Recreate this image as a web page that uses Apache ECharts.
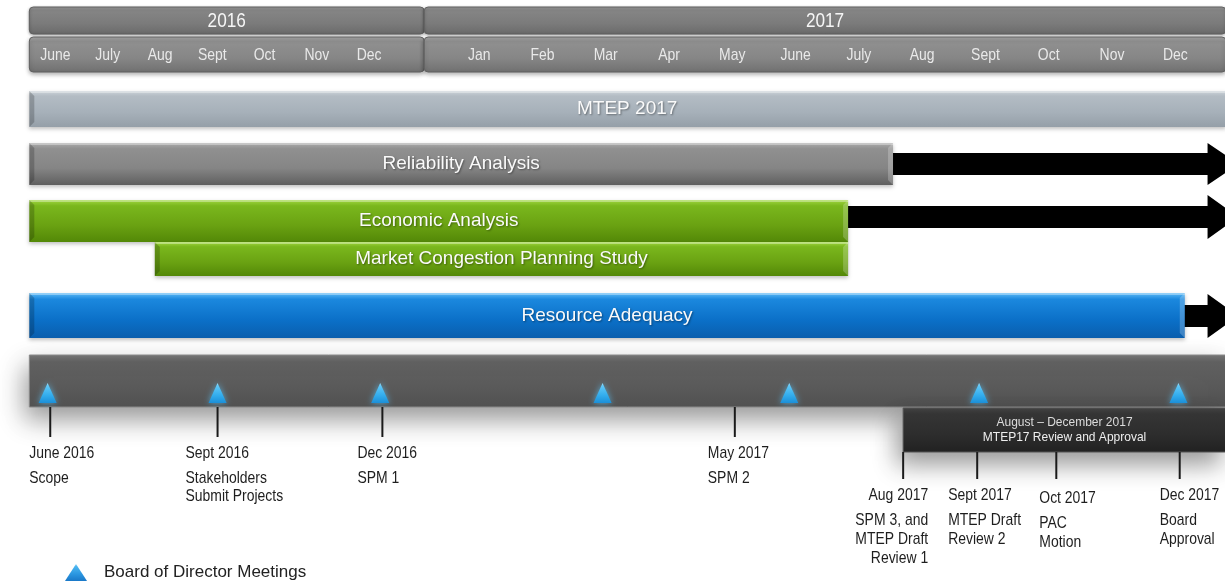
<!DOCTYPE html>
<html>
<head>
<meta charset="utf-8">
<script src="https://cdn.jsdelivr.net/npm/echarts@6/dist/echarts.min.js"></script>
<style>
  html, body { margin: 0; padding: 0; background: #fff; }
  #chart { width: 1225px; height: 581px; }
</style>
</head>
<body>
<div id="chart"></div>
<script>
// time is counted in months from the start of June 2016 (0 = June 2016, 7 = Jan 2017)
var years = ['2016', '2017'];
var yearStart = [0, 7];
var yearEnd = [7, 19.3];
var monthLabels = ['June', 'July', 'Aug', 'Sept', 'Oct', 'Nov', 'Dec',
  'Jan', 'Feb', 'Mar', 'Apr', 'May', 'June', 'July', 'Aug', 'Sept', 'Oct', 'Nov', 'Dec'];

var taskNames = ['MTEP 2017', 'Reliability Analysis', 'Economic Analysis',
  'Market Congestion Planning Study', 'Resource Adequacy'];
var taskStart = [0, 0, 0, 2.4, 0];
var taskEnd = [19.3, 14.04, 13.33, 13.33, 18.65];
var taskArrowTo = [null, 19.5, 19.5, null, 19.5];   // work continuing past the chart

var boardMeetings = [0.35, 3.6, 6.6, 9.45, 12.4, 15.4, 18.55];

var milestoneDates = ['June 2016', 'Sept 2016', 'Dec 2016', 'May 2017',
  'Aug 2017', 'Sept 2017', 'Oct 2017', 'Dec 2017'];
var milestoneNotes = [
  ['Scope'],
  ['Stakeholders', 'Submit Projects'],
  ['SPM 1'],
  ['SPM 2'],
  ['SPM 3, and', 'MTEP Draft', 'Review 1'],
  ['MTEP Draft', 'Review 2'],
  ['PAC', 'Motion'],
  ['Board', 'Approval']
];
var milestoneAt = [0.4, 3.6, 6.62, 11.54, 14.2, 15.37, 16.62, 18.57];

var reviewLines = ['August \u2013 December 2017', 'MTEP17 Review and Approval'];
var reviewStart = [14.2];
var reviewEnd = [19.3];

// ---- layout / style (not data) ----
var taskRows = [
  { top: 91, height: 36, stops: ['#ccd3d9', '#b3bcc4', '#a6b0b9', '#959fa8'] },
  { top: 143, height: 42, stops: ['#ababab', '#909090', '#858585', '#5f5f5f'] },
  { top: 200, height: 42, stops: ['#9fd640', '#7ab71d', '#6aa212', '#538807'] },
  { top: 242, height: 34, stops: ['#9fd640', '#7ab71d', '#6aa212', '#538807'] },
  { top: 293, height: 45, stops: ['#5cbaf6', '#1b88de', '#0b70c8', '#0a5ead'] }
];
var arrowRows = [null, { cy: 164, half: 21 }, { cy: 217, half: 22 }, null, { cy: 316, half: 22 }];
var milestoneTier = [0, 0, 0, 0, 1, 1, 1, 1];
var milestoneDx = [-21, -32, -25, -27, 25, -29, -17, -20];
var milestoneDy = [0, 0, 0, 0, 0, 0, 3, 0];
var milestoneAlign = ['left', 'left', 'left', 'left', 'right', 'left', 'left', 'left'];
var tiers = [
  { lineTop: 407, lineBottom: 437, dateY: 453, noteY: 478, step: 18 },
  { lineTop: 452, lineBottom: 479, dateY: 495, noteY: 520, step: 19 }
];
var SANS = 'Liberation Sans, Arial, sans-serif';

// the slide's month columns are uneven: 2016 months are narrower than 2017 ones,
// with a wider step across the year divider
var W16 = 52.3 / 63.3, GAP = 110 / 63.3;
function axisX(t) {
  if (t <= 6.5) return t * W16;
  if (t <= 7.5) return 6.5 * W16 + (t - 6.5) * GAP;
  return 6.5 * W16 + GAP + (t - 7.5);
}
function px(api, t) { return api.coord([axisX(t), 0])[0]; }

function vgrad(stops) {
  var n = stops.length - 1;
  var offs = n === 3 ? [0, 0.14, 0.6, 1] : stops.map(function (s, i) { return i / n; });
  return new echarts.graphic.LinearGradient(0, 0, 0, 1, stops.map(function (c, i) {
    return { offset: offs[i], color: c };
  }));
}

// Arial Narrow look: regular sans squeezed horizontally
function narrow(x, y, text, size, align, fill) {
  return {
    type: 'text', x: x, y: y, scaleX: 0.82,
    style: { text: text, x: 0, y: 0, fill: fill || '#1e1e1e', fontSize: size, fontFamily: SANS,
      align: align || 'left', verticalAlign: 'middle' }
  };
}

function renderYear(params, api) {
  var i = params.dataIndex;
  var x0 = px(api, api.value(0)), x1 = px(api, api.value(1));
  return { type: 'group', children: [
    { type: 'rect', shape: { x: x0, y: 7, width: x1 - x0, height: 27, r: 4 },
      style: { fill: vgrad(['#a0a0a0', '#858585', '#7b7b7b', '#6a6a6a']), stroke: '#606060', lineWidth: 1,
        shadowBlur: 3, shadowOffsetY: 1, shadowColor: 'rgba(0,0,0,0.3)' } },
    { type: 'rect', shape: { x: x0, y: 37, width: x1 - x0, height: 35, r: 4 },
      style: { fill: vgrad(['#a9a9a9', '#909090', '#868686', '#707070']), stroke: '#606060', lineWidth: 1,
        shadowBlur: 4, shadowOffsetY: 2, shadowColor: 'rgba(0,0,0,0.3)' } },
    narrow((x0 + x1) / 2, 21, years[i], 21, 'center', '#f6f6f6')
  ] };
}

function renderMonth(params, api) {
  var i = params.dataIndex;
  return narrow(px(api, api.value(0)), 55, monthLabels[i], 17, 'center', '#e9e9e9');
}

function renderTask(params, api) {
  var i = params.dataIndex, row = taskRows[i];
  var x0 = px(api, api.value(0)), x1 = px(api, api.value(1));
  var top = row.top, h = row.height, bot = top + h;
  var kids = [];
  if (taskArrowTo[i] != null) {
    var a = arrowRows[i], tip = px(api, taskArrowTo[i]), base = tip - 31, s = 11;
    kids.push({ type: 'polygon', shape: { points: [
      [x1 - 2, a.cy - s], [base, a.cy - s], [base, a.cy - a.half], [tip, a.cy],
      [base, a.cy + a.half], [base, a.cy + s], [x1 - 2, a.cy + s]] },
      style: { fill: '#000' } });
  }
  kids.push({ type: 'rect', shape: { x: x0, y: top, width: x1 - x0, height: h },
    style: { fill: vgrad(row.stops), shadowBlur: 4, shadowOffsetY: 2, shadowColor: 'rgba(0,0,0,0.25)' } });
  kids.push({ type: 'rect', shape: { x: x0, y: top, width: x1 - x0, height: 2 },
    style: { fill: 'rgba(255,255,255,0.35)' } });
  kids.push({ type: 'polygon', shape: { points: [[x0, top], [x0 + 5, top + 5], [x0 + 5, bot - 5], [x0, bot]] },
    style: { fill: 'rgba(0,0,0,0.2)' } });
  if (x1 < 1215) {
    kids.push({ type: 'polygon', shape: { points: [[x1, top], [x1 - 5, top + 5], [x1 - 5, bot - 5], [x1, bot]] },
      style: { fill: 'rgba(255,255,255,0.22)' } });
  }
  kids.push({ type: 'text', x: (x0 + Math.min(x1, 1225)) / 2, y: top + h / 2,
    style: { text: taskNames[i], x: 0, y: 0, fill: '#fafafa', fontSize: 19, fontFamily: SANS,
      align: 'center', verticalAlign: 'middle',
      textShadowBlur: 2, textShadowColor: 'rgba(0,0,0,0.4)', textShadowOffsetX: 1, textShadowOffsetY: 1 } });
  return { type: 'group', children: kids };
}

function renderBoardBar(params, api) {
  var x0 = px(api, 0), x1 = px(api, 19.3);
  return { type: 'rect', shape: { x: x0, y: 355, width: x1 - x0, height: 52 },
    style: { fill: vgrad(['#777777', '#626262', '#5b5b5b', '#525252']), stroke: '#8a8a8a', lineWidth: 1,
      shadowBlur: 26, shadowOffsetY: 12, shadowOffsetX: -4, shadowColor: 'rgba(0,0,0,0.4)' } };
}

function renderReview(params, api) {
  var x0 = px(api, api.value(0)), x1 = px(api, api.value(1)), cx = (x0 + x1) / 2;
  return { type: 'group', children: [
    { type: 'rect', shape: { x: x0, y: 408, width: x1 - x0, height: 44 },
      style: { fill: vgrad(['#444444', '#363636', '#2e2e2e', '#222222']), stroke: '#555', lineWidth: 1,
        shadowBlur: 24, shadowOffsetY: 12, shadowOffsetX: -6, shadowColor: 'rgba(0,0,0,0.4)' } },
    { type: 'text', x: cx, y: 423, style: { text: reviewLines[0], x: 0, y: 0, fill: '#dcdcdc',
      fontSize: 12, fontFamily: SANS, align: 'center', verticalAlign: 'middle' } },
    { type: 'text', x: cx, y: 438, style: { text: reviewLines[1], x: 0, y: 0, fill: '#eeeeee',
      fontSize: 12, fontFamily: SANS, align: 'center', verticalAlign: 'middle' } }
  ] };
}

function renderMeeting(params, api) {
  var x = px(api, api.value(0));
  return { type: 'polygon', shape: { points: [[x, 383], [x + 9, 403], [x - 9, 403]] },
    style: { fill: vgrad(['#a8e6ff', '#62c8f7', '#34aeee', '#1b8fd8']),
      shadowBlur: 6, shadowColor: 'rgba(90,200,255,0.7)' } };
}

function renderMilestone(params, api) {
  var i = params.dataIndex, tier = tiers[milestoneTier[i]];
  var x = px(api, api.value(0)), tx = x + milestoneDx[i], al = milestoneAlign[i], dy = milestoneDy[i];
  var kids = [
    { type: 'line', shape: { x1: x, y1: tier.lineTop, x2: x, y2: tier.lineBottom },
      style: { stroke: '#1a1a1a', lineWidth: 2 } },
    narrow(tx, tier.dateY + dy, milestoneDates[i], 17, al)
  ];
  milestoneNotes[i].forEach(function (line, k) {
    kids.push(narrow(tx, tier.noteY + dy + k * tier.step, line, 17, al));
  });
  return { type: 'group', children: kids };
}

var chart = echarts.init(document.getElementById('chart'));
chart.setOption({
  animation: false,
  backgroundColor: '#ffffff',
  grid: { left: 23, right: 0, top: 0, bottom: 0 },
  xAxis: { type: 'value', min: -0.1, max: 18.894, show: false },
  yAxis: { type: 'value', min: 0, max: 581, inverse: true, show: false },
  legend: {
    data: ['Board of Director Meetings'],
    left: 65, top: 564, padding: 0, icon: 'triangle', itemWidth: 22, itemHeight: 17,
    textStyle: { fontSize: 17, color: '#222', fontFamily: SANS, padding: [0, 0, 0, 12] }
  },
  series: [
    { type: 'custom', renderItem: renderYear, silent: true,
      data: years.map(function (y, i) { return [yearStart[i], yearEnd[i]]; }) },
    { type: 'custom', renderItem: renderMonth, silent: true,
      data: monthLabels.map(function (m, i) { return [i + 0.5]; }) },
    { type: 'custom', renderItem: renderTask, silent: true,
      data: taskNames.map(function (n, i) { return [taskStart[i], taskEnd[i]]; }) },
    { type: 'custom', renderItem: renderBoardBar, silent: true, data: [[0]] },
    { type: 'custom', renderItem: renderReview, silent: true,
      data: reviewStart.map(function (s, i) { return [s, reviewEnd[i]]; }) },
    { type: 'custom', name: 'Board of Director Meetings', renderItem: renderMeeting,
      itemStyle: { color: vgrad(['#8fd6fb', '#4cb6f0', '#2a96e0', '#1a78c8']) },
      data: boardMeetings.map(function (t) { return [t]; }) },
    { type: 'custom', renderItem: renderMilestone, silent: true,
      data: milestoneAt.map(function (t) { return [t]; }) }
  ]
});
</script>
</body>
</html>
